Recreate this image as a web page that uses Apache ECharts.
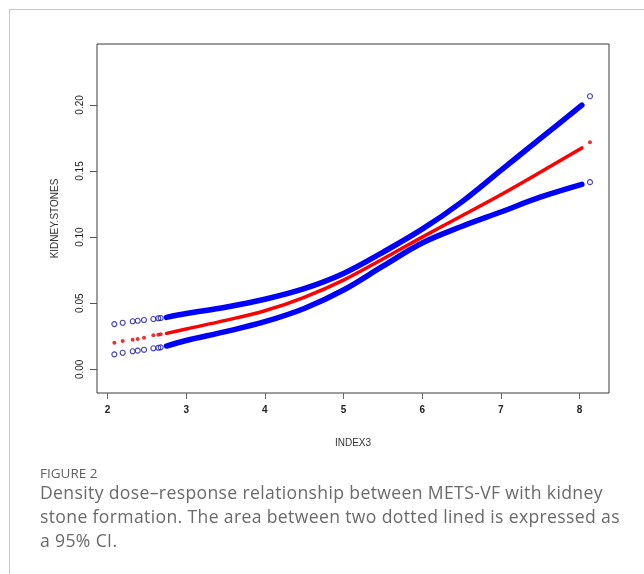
<!DOCTYPE html>
<html>
<head>
<meta charset="utf-8">
<script src="https://cdn.jsdelivr.net/npm/echarts@6/dist/echarts.min.js"></script>
<style>
  html, body { margin: 0; padding: 0; background: #fff; }
  #wrap { position: relative; width: 644px; height: 574px; overflow: hidden; }
  #chart { position: absolute; left: 0; top: 0; width: 644px; height: 574px; }
  #frame { position: absolute; left: 9px; top: 9px; width: 700px; height: 700px;
           border-left: 1px solid #c8c8c8; border-top: 1px solid #c8c8c8; }
  .cap { position: absolute; left: 40px; font-family: "Open Sans", sans-serif; color: #6a6a6a; white-space: nowrap; }
  #figlab { top: 465px; font-size: 13.5px; line-height: 16px; color: #5f5f5f; }
  #captxt { top: 480px; font-size: 17.6px; line-height: 24px; letter-spacing: 0.35px; }
</style>
</head>
<body>
<div id="wrap">
  <div id="frame"></div>
  <div id="chart"></div>
  <div class="cap" id="figlab">FIGURE 2</div>
  <div class="cap" id="captxt">Density dose–response relationship between METS-VF with kidney<br>stone formation. The area between two dotted lined is expressed as<br>a 95% CI.</div>
</div>
<script>
// Tick labels
const xTicks = [2, 3, 4, 5, 6, 7, 8];
const yTicks = [0.00, 0.05, 0.10, 0.15, 0.20];

// Dense part of the curves (INDEX3 values and fitted estimates)
const xCurve     = [2.75, 3.0, 3.5, 4.0, 4.5, 5.0, 5.5, 6.0, 6.5, 7.0, 7.5, 8.03];
const upperCurve = [0.0393, 0.0422, 0.0470, 0.0530, 0.0610, 0.0725, 0.0885, 0.1060, 0.1265, 0.1505, 0.1745, 0.1998];
const fitCurve   = [0.0272, 0.0305, 0.0370, 0.0443, 0.0545, 0.0675, 0.0835, 0.1000, 0.1160, 0.1320, 0.1490, 0.1675];
const lowerCurve = [0.0176, 0.0218, 0.0285, 0.0360, 0.0460, 0.0600, 0.0780, 0.0955, 0.1080, 0.1190, 0.1302, 0.1399];

// Sparse individual points at the low end
const xSparse     = [2.087, 2.193, 2.320, 2.384, 2.464, 2.583, 2.646, 2.676];
const upperSparse = [0.0342, 0.0352, 0.0363, 0.0367, 0.0373, 0.0380, 0.0386, 0.0388];
const fitSparse   = [0.0201, 0.0214, 0.0224, 0.0229, 0.0239, 0.0257, 0.0262, 0.0265];
const lowerSparse = [0.0113, 0.0125, 0.0136, 0.0141, 0.0148, 0.0159, 0.0163, 0.0166];

// Sparse individual points at the high end
const xSparseHi     = [8.133];
const upperSparseHi = [0.2066];
const fitSparseHi   = [0.1718];
const lowerSparseHi = [0.1416];

const zip = (xs, ys) => xs.map((x, i) => [x, ys[i]]);

const BLUE = '#0000ff', RED = '#ff0000', DOT_BLUE = '#1010b0';
const chart = echarts.init(document.getElementById('chart'), null, { renderer: 'canvas' });

const lineSeries = (data, color, width, z) => ({
  type: 'line', data, smooth: 0.35, showSymbol: false, symbol: 'none', z,
  lineStyle: { color, width, cap: 'round' }, animation: false
});
const openPts = (data) => ({
  type: 'scatter', data, symbol: 'circle', symbolSize: 5, z: 5,
  itemStyle: { color: 'rgba(255,255,255,0)', borderColor: DOT_BLUE, borderWidth: 1.1 }, animation: false
});
const redPts = (data) => ({
  type: 'scatter', data, symbol: 'circle', symbolSize: 4, z: 5,
  itemStyle: { color: '#e00000' }, animation: false
});

chart.setOption({
  animation: false,
  grid: { left: 97, right: 35, top: 44, bottom: 181, show: true, borderColor: '#3a3a3a', borderWidth: 1, backgroundColor: 'transparent' },
  xAxis: {
    type: 'value', min: 1.8665, max: 8.375, position: 'bottom',
    name: 'INDEX3', nameLocation: 'middle', nameGap: 45,
    nameTextStyle: { fontFamily: 'Liberation Sans', fontSize: 10, color: '#333' },
    axisLine: { show: false, onZero: false },
    axisTick: { show: true, length: 6, lineStyle: { color: '#666' }, customValues: xTicks },
    axisLabel: { customValues: xTicks, margin: 12, fontFamily: 'Liberation Sans', fontSize: 10, fontWeight: 'bold', color: '#222',
                 formatter: v => String(v) },
    splitLine: { show: false }
  },
  yAxis: {
    type: 'value', min: -0.01793, max: 0.2461, position: 'left',
    name: 'KIDNEY.STONES', nameLocation: 'middle', nameGap: 37, nameRotate: 90,
    nameTextStyle: { fontFamily: 'Liberation Sans', fontSize: 10, color: '#333' },
    axisLine: { show: false, onZero: false },
    axisTick: { show: true, length: 7, lineStyle: { color: '#555' }, customValues: yTicks },
    axisLabel: { customValues: yTicks, rotate: 90, margin: 12, fontFamily: 'Liberation Sans', fontSize: 10, color: '#222',
                 formatter: v => v.toFixed(2) },
    splitLine: { show: false }
  },
  series: [
    lineSeries(zip(xCurve, upperCurve), BLUE, 5.5, 2),
    lineSeries(zip(xCurve, lowerCurve), BLUE, 5.5, 2),
    lineSeries(zip(xCurve, fitCurve), RED, 3.5, 3),
    openPts(zip(xSparse, upperSparse)),
    openPts(zip(xSparse, lowerSparse)),
    redPts(zip(xSparse, fitSparse)),
    openPts(zip(xSparseHi, upperSparseHi)),
    openPts(zip(xSparseHi, lowerSparseHi)),
    redPts(zip(xSparseHi, fitSparseHi))
  ]
});
</script>
</body>
</html>
